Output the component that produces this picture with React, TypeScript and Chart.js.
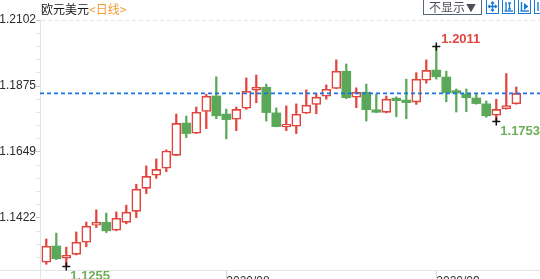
import React, { useEffect, useRef } from 'react';
import { Chart, registerables } from 'chart.js';

Chart.register(...registerables);

// ---- data ----
const dates = [
  '2020-07-08', '2020-07-09', '2020-07-10', '2020-07-13', '2020-07-14', '2020-07-15', '2020-07-16', '2020-07-17',
  '2020-07-20', '2020-07-21', '2020-07-22', '2020-07-23', '2020-07-24', '2020-07-27', '2020-07-28', '2020-07-29',
  '2020-07-30', '2020-07-31',
  '2020-08-03', '2020-08-04', '2020-08-05', '2020-08-06', '2020-08-07', '2020-08-10', '2020-08-11', '2020-08-12',
  '2020-08-13', '2020-08-14', '2020-08-17', '2020-08-18', '2020-08-19', '2020-08-20', '2020-08-21', '2020-08-24',
  '2020-08-25', '2020-08-26', '2020-08-27', '2020-08-28', '2020-08-31',
  '2020-09-01', '2020-09-02', '2020-09-03', '2020-09-04', '2020-09-07', '2020-09-08', '2020-09-09', '2020-09-10',
  '2020-09-11',
];

const opens = [
  1.1270, 1.1326, 1.1284, 1.1297, 1.1339, 1.1397, 1.1407, 1.1380,
  1.1407, 1.1445, 1.1524, 1.1569, 1.1593, 1.1637, 1.1748, 1.1713,
  1.1788, 1.1841,
  1.1779, 1.1761, 1.1799, 1.1861, 1.1871, 1.1783, 1.1735, 1.1737,
  1.1782, 1.1812, 1.1840, 1.1867, 1.1926, 1.1837, 1.1854, 1.1787,
  1.1785, 1.1831, 1.1827, 1.1820, 1.1895,
  1.1930, 1.1906, 1.1853, 1.1848, 1.1834, 1.1814, 1.1775, 1.1797,
  1.1814,
];
const highs = [
  1.1350, 1.1370, 1.1322, 1.1374, 1.1408, 1.1450, 1.1439, 1.1443,
  1.1466, 1.1538, 1.1601, 1.1625, 1.1656, 1.1779, 1.1772, 1.1803,
  1.1847, 1.1907,
  1.1796, 1.1803, 1.1903, 1.1913, 1.1882, 1.1800, 1.1807, 1.1814,
  1.1862, 1.1848, 1.1879, 1.1965, 1.1951, 1.1869, 1.1882, 1.1848,
  1.1841, 1.1838, 1.1899, 1.1921, 1.1965,
  1.2011, 1.1926, 1.1865, 1.1865, 1.1850, 1.1824, 1.1830, 1.1918,
  1.1872,
];
const lows = [
  1.1263, 1.1279, 1.1255, 1.1295, 1.1323, 1.1389, 1.1372, 1.1378,
  1.1402, 1.1423, 1.1506, 1.1558, 1.1581, 1.1636, 1.1698, 1.1712,
  1.1729, 1.1763,
  1.1694, 1.1722, 1.1795, 1.1818, 1.1755, 1.1735, 1.1722, 1.1712,
  1.1781, 1.1780, 1.1830, 1.1866, 1.1832, 1.1801, 1.1755, 1.1784,
  1.1783, 1.1770, 1.1763, 1.1812, 1.1885,
  1.1899, 1.1821, 1.1786, 1.1787, 1.1813, 1.1768, 1.1753, 1.1796,
  1.1813,
];
const closes = [
  1.1325, 1.1282, 1.1294, 1.1339, 1.1394, 1.1407, 1.1378, 1.1421,
  1.1442, 1.1521, 1.1565, 1.1589, 1.1652, 1.1747, 1.1712, 1.1785,
  1.1840, 1.1773,
  1.1760, 1.1795, 1.1857, 1.1871, 1.1784, 1.1736, 1.1737, 1.1778,
  1.1809, 1.1837, 1.1864, 1.1926, 1.1835, 1.1854, 1.1794, 1.1785,
  1.1830, 1.1825, 1.1818, 1.1899, 1.1929,
  1.1907, 1.1852, 1.1851, 1.1835, 1.1815, 1.1773, 1.1795, 1.1808,
  1.1850,
];

const yMajorTicks = [1.2102, 1.1875, 1.1649, 1.1422];
const yMajorLabels = ['1.2102', '1.1875', '1.1649', '1.1422'];
const yMin = 1.12434;
const yMax = 1.2102;

const xTickDates = ['2020-08-03', '2020-09-01'];
const xTickLabels = ['2020/08', '2020/09'];

const markerDates = ['2020-09-01', '2020-07-10', '2020-09-09'];
const markerKinds = ['high', 'low', 'low'];

const RED = '#e0463d';
const GREEN = '#5ba85a';
const FONT = '"Liberation Sans", Arial, "Noto Sans CJK SC", sans-serif';

const isUp = (i: number) => closes[i] >= opens[i];

const annotPlugin = {
  id: 'annot',
  afterDatasetsDraw(chart: any) {
    const { ctx, chartArea, scales } = chart;
    const x = scales.x;
    const y = scales.y;
    // last price dashed line
    const ly = y.getPixelForValue(closes[closes.length - 1]);
    ctx.save();
    ctx.strokeStyle = '#1b74e4';
    ctx.lineWidth = 1.6;
    ctx.setLineDash([4, 3]);
    ctx.beginPath();
    ctx.moveTo(chartArea.left, ly);
    ctx.lineTo(chartArea.right, ly);
    ctx.stroke();
    ctx.restore();

    markerDates.forEach((d, k) => {
      const i = dates.indexOf(d);
      const kind = markerKinds[k];
      const v = kind === 'high' ? highs[i] : lows[i];
      const px = x.getPixelForValue(i);
      const py = y.getPixelForValue(v);
      ctx.save();
      ctx.strokeStyle = '#111';
      ctx.lineWidth = 1.5;
      ctx.beginPath();
      ctx.moveTo(px - 4, py);
      ctx.lineTo(px + 4, py);
      ctx.moveTo(px, py - 4);
      ctx.lineTo(px, py + 4);
      ctx.stroke();
      ctx.font = `bold 13px ${FONT}`;
      ctx.textAlign = 'left';
      ctx.textBaseline = 'alphabetic';
      if (kind === 'high') {
        ctx.fillStyle = RED;
        ctx.fillText(v.toFixed(4), px + 5, py - 3);
      } else {
        ctx.fillStyle = '#6fae58';
        ctx.fillText(v.toFixed(4), px + 4, py + 13);
      }
      ctx.restore();
    });
  },
};

function Icon({ left, kind }: { left: number; kind: number }) {
  const c = '#1b7ad6';
  return (
    <div
      style={{
        position: 'absolute', left, top: -1, width: 11, height: 13,
        border: `1px solid ${c}`, boxSizing: 'content-box', background: '#fff',
      }}
    >
      <svg width={11} height={13} style={{ display: 'block' }}>
        {kind === 0 && (
          <g stroke={c} strokeWidth={1.4} fill="none">
            <line x1={5.5} y1={2} x2={5.5} y2={11} />
            <line x1={1.5} y1={6.5} x2={9.5} y2={6.5} />
            <polyline points="4,3.5 5.5,2 7,3.5" />
            <polyline points="4,9.5 5.5,11 7,9.5" />
            <polyline points="3,5 1.5,6.5 3,8" />
            <polyline points="8,5 9.5,6.5 8,8" />
          </g>
        )}
        {kind === 1 && (
          <g stroke={c} strokeWidth={1.4} fill="none">
            <line x1={3} y1={2} x2={3} y2={11} />
            <line x1={1.5} y1={11} x2={10} y2={11} />
            <line x1={6.5} y1={3} x2={6.5} y2={9} />
            <line x1={5} y1={3} x2={8} y2={3} />
            <line x1={5} y1={9} x2={8} y2={9} />
          </g>
        )}
        {kind === 2 && (
          <g stroke={c} strokeWidth={1.4} fill="none">
            <line x1={2.5} y1={2} x2={2.5} y2={11} />
            <line x1={1.5} y1={11} x2={10} y2={11} />
            <polygon points="5,3 9.5,6.5 5,10" fill={c} stroke="none" />
          </g>
        )}
        {kind === 3 && (
          <g stroke={c} strokeWidth={1.4} fill="none">
            <line x1={3} y1={2} x2={3} y2={11} />
          </g>
        )}
      </svg>
    </div>
  );
}

export default function App() {
  const ref = useRef<HTMLCanvasElement | null>(null);

  useEffect(() => {
    if (!ref.current) return;
    Chart.defaults.font.family = FONT;
    const idx = dates.map((_, i) => i);
    const chart = new Chart(ref.current, {
      type: 'bar',
      data: {
        datasets: [
          {
            label: 'wick',
            data: idx.map((i) => ({ x: i, y: [lows[i], highs[i]] })) as any,
            backgroundColor: idx.map((i) => (isUp(i) ? RED : GREEN)),
            borderWidth: 0,
            barThickness: 1.6,
            grouped: false,
            order: 2,
          } as any,
          {
            label: 'body',
            data: idx.map((i) => ({ x: i, y: [opens[i], closes[i]] })) as any,
            backgroundColor: idx.map((i) => (isUp(i) ? '#ffffff' : GREEN)),
            borderColor: idx.map((i) => (isUp(i) ? RED : GREEN)),
            borderWidth: idx.map((i) => (isUp(i) ? 1.6 : 0)),
            borderSkipped: false,
            barThickness: 9,
            minBarLength: 2.5,
            grouped: false,
            order: 1,
          } as any,
        ],
      },
      options: {
        animation: false,
        responsive: false,
        maintainAspectRatio: false,
        events: [],
        layout: { padding: { top: 20, left: 0, right: 0, bottom: 0 } },
        plugins: { legend: { display: false }, tooltip: { enabled: false } },
        scales: {
          x: {
            type: 'linear',
            min: -0.63,
            max: 49.37,
            offset: false,
            afterFit: (s: any) => { s.height = 30; },
            afterBuildTicks: (s: any) => {
              s.ticks = xTickDates.map((d) => ({ value: dates.indexOf(d) }));
            },
            ticks: {
              autoSkip: false,
              maxRotation: 0,
              align: 'start',
              padding: -4,
              color: '#333',
              font: { size: 12, family: FONT },
              callback: (v: any) => {
                const k = xTickDates.findIndex((d) => dates.indexOf(d) === v);
                return k >= 0 ? xTickLabels[k] : '';
              },
            },
            grid: {
              offset: false,
              drawOnChartArea: false,
              drawTicks: true,
              tickLength: 8,
              tickColor: '#cfd5d9',
            },
            border: { display: true, color: '#e3e6e8', width: 1 },
          } as any,
          y: {
            type: 'linear',
            min: yMin,
            max: yMax,
            afterFit: (s: any) => { s.width = 40; },
            afterBuildTicks: (s: any) => {
              const vals: number[] = [];
              for (let k = 0; k < yMajorTicks.length; k++) {
                vals.push(yMajorTicks[k]);
                const next = k + 1 < yMajorTicks.length ? yMajorTicks[k + 1] : null;
                const step = (yMajorTicks[0] - yMajorTicks[1]) / 5;
                for (let m = 1; m < 5; m++) {
                  const v = yMajorTicks[k] - m * step;
                  if (next !== null && v <= next + 1e-6) break;
                  if (v < yMin) break;
                  vals.push(v);
                }
              }
              s.ticks = vals.map((v) => ({ value: v }));
            },
            ticks: {
              autoSkip: false,
              padding: 0,
              color: '#2b2b2b',
              font: { size: 12, family: FONT },
              callback: (v: any) => {
                const k = yMajorTicks.findIndex((m) => Math.abs(m - v) < 1e-6);
                return k >= 0 ? yMajorLabels[k] : '';
              },
            },
            grid: {
              drawOnChartArea: true,
              drawTicks: true,
              tickLength: 4,
              color: (c: any) =>
                c.tick && Math.abs(c.tick.value - yMax) < 1e-6 ? '#e1e6e6' : 'rgba(0,0,0,0)',
              tickColor: (c: any) =>
                c.tick && yMajorTicks.some((m) => Math.abs(m - c.tick.value) < 1e-6) ? '#c6d0d6' : '#e0e7eb',
            },
            border: { display: true, color: '#dde6ea', width: 1, dash: [4, 3] },
          } as any,
        },
      },
      plugins: [annotPlugin],
    });
    return () => chart.destroy();
  }, []);

  return (
    <div
      style={{
        position: 'fixed', left: 0, top: 0, width: 540, height: 279,
        overflow: 'hidden', background: '#fff', fontFamily: FONT,
      }}
    >
      <canvas ref={ref} width={540} height={300} style={{ display: 'block', width: 540, height: 300 }} />
      <div
        style={{
          position: 'absolute', left: 41, top: 2, fontSize: 12, lineHeight: '14px',
          fontFamily: '"Noto Sans CJK SC", sans-serif', whiteSpace: 'nowrap',
        }}
      >
        <span style={{ color: '#1a1a1a' }}>欧元美元</span>
        <span style={{ color: '#f29b38' }}>&lt;日线&gt;</span>
      </div>
      <div
        style={{
          position: 'absolute', left: 423, top: -1, width: 57, height: 14,
          border: '1px solid #56657a', boxSizing: 'content-box', background: '#fff',
          fontSize: 12, lineHeight: '14px', color: '#4a4f57', paddingLeft: 0,
          fontFamily: '"Noto Sans CJK SC", sans-serif', whiteSpace: 'nowrap',
        }}
      >
        <span style={{ marginLeft: 5 }}>不显示</span>
        <span style={{ fontSize: 10, marginLeft: 1 }}>▼</span>
      </div>
      <Icon left={486} kind={0} />
      <Icon left={502} kind={1} />
      <Icon left={518} kind={2} />
      <Icon left={534} kind={3} />
      <div style={{ position: 'absolute', left: 0, top: 270, width: 40, height: 1, background: '#e3e6e8' }} />
      <div style={{ position: 'absolute', left: 40, top: 270, width: 1, height: 9, background: '#dde6ea' }} />
    </div>
  );
}
